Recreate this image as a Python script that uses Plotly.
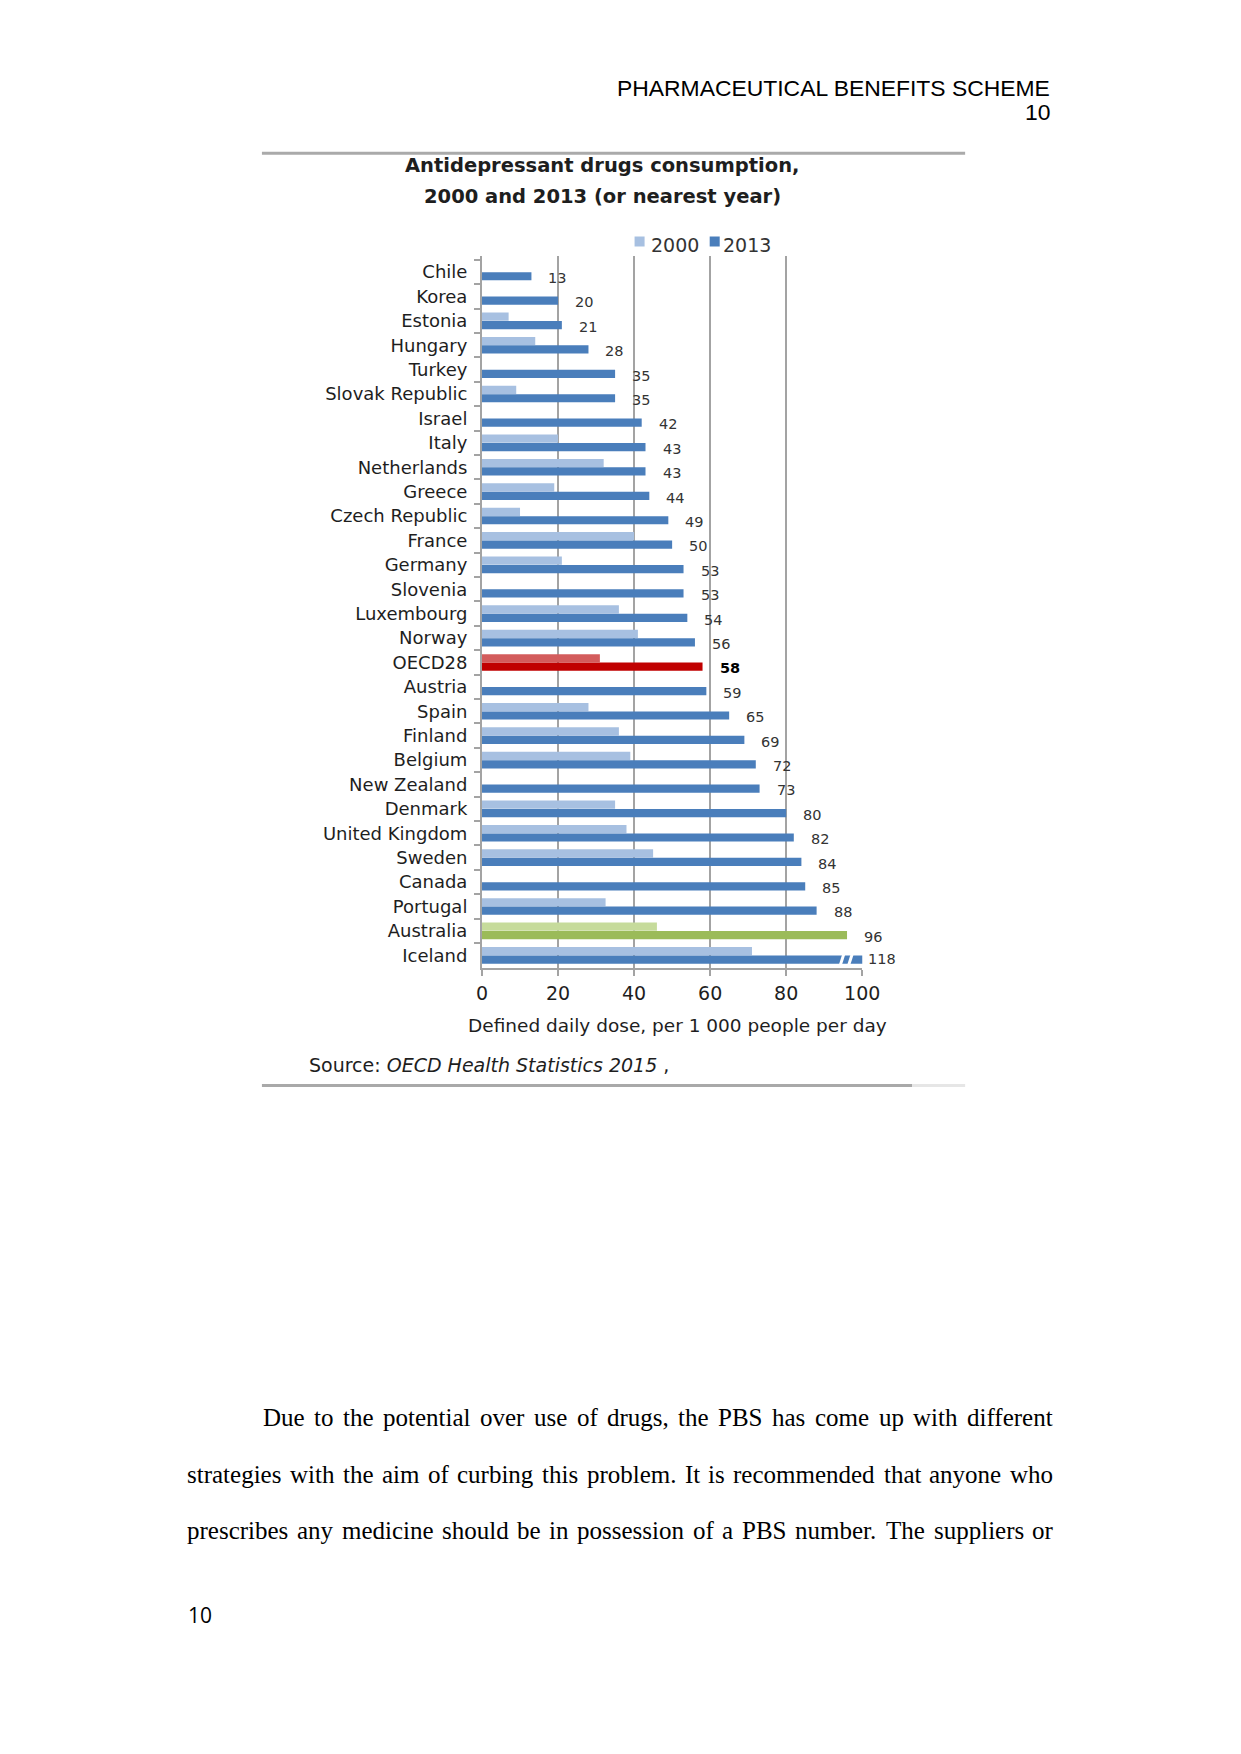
import plotly.graph_objects as go

W, H = 1241, 1754

# ---------------- data ----------------
countries = ["Chile", "Korea", "Estonia", "Hungary", "Turkey", "Slovak Republic", "Israel",
             "Italy", "Netherlands", "Greece", "Czech Republic", "France", "Germany", "Slovenia",
             "Luxembourg", "Norway", "OECD28", "Austria", "Spain", "Finland", "Belgium",
             "New Zealand", "Denmark", "United Kingdom", "Sweden", "Canada", "Portugal",
             "Australia", "Iceland"]
v2013 = [13, 20, 21, 28, 35, 35, 42, 43, 43, 44, 49, 50, 53, 53, 54, 56, 58, 59, 65, 69, 72,
         73, 80, 82, 84, 85, 88, 96, 118]
v2000 = [None, None, 7, 14, None, 9, None, 20, 32, 19, 10, 40, 21, None, 36, 41, 31, None, 28,
         36, 39, None, 35, 38, 45, None, 32.5, 46, 71]
x_ticks = [0, 20, 40, 60, 80, 100]
series_names = ["2000", "2013"]

title_lines = ["Antidepressant drugs consumption,", "2000 and 2013 (or nearest year)"]
x_title = "Defined daily dose, per 1 000 people per day"
source_html = "Source: <i>OECD Health Statistics 2015</i> ,"

header_title = "PHARMACEUTICAL BENEFITS SCHEME"
page_no = "10"
para_lines = [
    "Due to the potential over use of drugs, the PBS has come up with different",
    "strategies with the aim of curbing this problem. It is recommended that anyone who",
    "prescribes any medicine should be in possession of a PBS number. The suppliers or",
]

# ---------------- styling ----------------
BLUE_L, BLUE_D = "#A7C0E1", "#4A7EBB"
RED_L, RED_D = "#D35C5C", "#C00000"
GRN_L, GRN_D = "#C6DB9B", "#9BBB59"
GRID = "#A3A3A3"
TXT = "#1E1E1E"
CF = "DejaVu Sans"
XMAX = 100


def col(c, base, oecd, aus):
    if c == "OECD28":
        return oecd
    if c == "Australia":
        return aus
    return base


c2000 = [col(c, BLUE_L, RED_L, GRN_L) for c in countries]
c2013 = [col(c, BLUE_D, RED_D, GRN_D) for c in countries]

# the viewer lays the page out slightly narrower than the window; compensate horizontally
OFF_X, SCALE_X = 7.5, 0.979


def px(x):
    return ((x - OFF_X) / SCALE_X) / W


def py(y):
    return 1 - y / H


PLOT_L, PLOT_R = 482.7, 862.3
PLOT_T, PLOT_B = 256.0, 967.5
BARGAP, GROUPGAP = 0.307, 0.03

fig = go.Figure()
fig.add_trace(go.Bar(y=countries, x=v2000, name=series_names[0], orientation="h",
                     marker=dict(color=c2000, line=dict(width=0)), hoverinfo="x+y"))
fig.add_trace(go.Bar(y=countries, x=v2013, name=series_names[1], orientation="h",
                     marker=dict(color=c2013, line=dict(width=0)), hoverinfo="x+y"))

annotations = []
shapes = []

# data labels
for c, v in zip(countries, v2013):
    over = v > XMAX
    txt = "<b>%d</b>" % v if c == "OECD28" else "%d" % v
    annotations.append(dict(
        x=min(v, XMAX), y=c, xref="x", yref="y", text=txt, showarrow=False,
        xanchor="left", yanchor="middle", xshift=4 if over else 15, yshift=-4 if over else -6,
        font=dict(family=CF, size=14.5, color="#000000" if c == "OECD28" else "#333333")))
    if over:
        idx = countries.index(c)
        off = (1 - BARGAP) / 4
        for bx in (XMAX - 5.3, XMAX - 3.1):
            shapes.append(dict(type="line", xref="x", yref="y",
                               x0=bx - 0.45, x1=bx + 0.45,
                               y0=idx + off + 0.22, y1=idx + off - 0.22,
                               line=dict(color="white", width=3)))

# title
annotations.append(dict(x=px(602.6), y=py(165.6), xref="paper", yref="paper", showarrow=False,
                        text="<b>%s</b>" % title_lines[0], xanchor="center", yanchor="middle",
                        font=dict(family=CF, size=19.5, color=TXT)))
annotations.append(dict(x=px(602.6), y=py(196.0), xref="paper", yref="paper", showarrow=False,
                        text="<b>%s</b>" % title_lines[1], xanchor="center", yanchor="middle",
                        font=dict(family=CF, size=19.5, color=TXT)))

# legend
for name, sq_x, tx, colr in ((series_names[0], 635, 649.5, BLUE_L),
                             (series_names[1], 710, 721.5, BLUE_D)):
    shapes.append(dict(type="rect", xref="paper", yref="paper",
                       x0=px(sq_x), x1=px(sq_x + 10), y0=py(246.5), y1=py(236.5),
                       fillcolor=colr, line=dict(width=0)))
    annotations.append(dict(x=px(tx), y=py(244.7), xref="paper", yref="paper", showarrow=False,
                            text=name, xanchor="left", yanchor="middle",
                            font=dict(family=CF, size=19, color="#333333")))

# axis title & source
annotations.append(dict(x=px(678), y=py(1025), xref="paper", yref="paper", showarrow=False,
                        text=x_title, xanchor="center", yanchor="middle",
                        font=dict(family=CF, size=18.5, color=TXT)))
annotations.append(dict(x=px(308), y=py(1065), xref="paper", yref="paper", showarrow=False,
                        text=source_html, xanchor="left", yanchor="middle",
                        font=dict(family=CF, size=19, color=TXT)))

# frame lines of the pasted chart image
shapes.append(dict(type="line", xref="paper", yref="paper", x0=px(263), x1=px(965),
                   y0=py(153.3), y1=py(153.3), line=dict(color="#AAAAAA", width=3)))
shapes.append(dict(type="line", xref="paper", yref="paper", x0=px(263), x1=px(912),
                   y0=py(1085.5), y1=py(1085.5), line=dict(color="#A9A9A9", width=3)))
shapes.append(dict(type="line", xref="paper", yref="paper", x0=px(912), x1=px(965),
                   y0=py(1085.5), y1=py(1085.5), line=dict(color="#E6E6E6", width=3)))

# page header / footer
annotations.append(dict(x=px(1052), y=py(87.7), xref="paper", yref="paper", showarrow=False,
                        text=header_title, xanchor="right", yanchor="middle",
                        font=dict(family="Liberation Sans", size=22.9, color="#000000")))
annotations.append(dict(x=px(1052), y=py(111.7), xref="paper", yref="paper", showarrow=False,
                        text=page_no, xanchor="right", yanchor="middle",
                        font=dict(family="Liberation Sans", size=22.9, color="#000000")))
annotations.append(dict(x=px(187), y=py(1614.5), xref="paper", yref="paper", showarrow=False,
                        text=page_no, xanchor="left", yanchor="middle",
                        font=dict(family="Open Sans", size=21, color="#000000")))

# justified body paragraph (Times metrics)
TIMES = {' ': 250, ',': 250, '.': 250, 'a': 444, 'b': 500, 'c': 444, 'd': 500, 'e': 444,
         'f': 333, 'g': 500, 'h': 500, 'i': 278, 'j': 278, 'k': 500, 'l': 278, 'm': 778,
         'n': 500, 'o': 500, 'p': 500, 'q': 500, 'r': 333, 's': 389, 't': 278, 'u': 500,
         'v': 500, 'w': 722, 'x': 500, 'y': 500, 'z': 444, 'D': 722, 'P': 556, 'B': 667,
         'S': 556, 'I': 333, 'T': 611}
PFS = 25.0


def tw(s):
    return sum(TIMES.get(ch, 500) for ch in s) * PFS / 1000.0


line_specs = [(262.7, 1052.0, 1425.7), (187.5, 1052.0, 1482.5), (187.5, 1052.0, 1539.3)]
for text, (x_start, x_end, base) in zip(para_lines, line_specs):
    words = text.split(" ")
    total = sum(tw(w) for w in words)
    gap = (x_end - x_start - total) / (len(words) - 1)
    xx = x_start
    for w in words:
        annotations.append(dict(x=px(xx - 1), y=py(base - 8.4), xref="paper", yref="paper",
                                showarrow=False, text=w, xanchor="left", yanchor="middle",
                                font=dict(family="Liberation Serif", size=PFS, color="#000000")))
        xx += tw(w) + gap

fig.update_layout(
    width=W, height=H, autosize=False, margin=dict(l=0, r=0, t=0, b=0, pad=0),
    paper_bgcolor="white", plot_bgcolor="white",
    barmode="group", bargap=BARGAP, bargroupgap=GROUPGAP, showlegend=False,
    annotations=annotations, shapes=shapes,
    xaxis=dict(domain=[px(PLOT_L), px(PLOT_R)], range=[0, XMAX], tickvals=x_ticks,
               showgrid=True, gridcolor=GRID, gridwidth=2, zeroline=False,
               showline=True, linecolor=GRID, linewidth=2,
               ticks="outside", ticklen=6, tickwidth=2, tickcolor=GRID, ticklabelstandoff=2,
               tickfont=dict(family=CF, size=19, color=TXT), fixedrange=True),
    yaxis=dict(domain=[py(PLOT_B), py(PLOT_T)], type="category", categoryorder="array",
               categoryarray=countries, autorange="reversed", showgrid=False,
               showline=True, linecolor=GRID, linewidth=2,
               ticks="outside", tickson="boundaries", ticklen=6, tickwidth=2, tickcolor=GRID,
               ticklabelstandoff=9, tickfont=dict(family=CF, size=18, color=TXT),
               fixedrange=True),
)

post = (
    "document.documentElement.style.margin='0';"
    "document.documentElement.style.overflow='hidden';"
    "document.body.style.margin='0';document.body.style.padding='0';"
    "document.body.style.overflow='hidden';"
    "var gd=document.getElementById('{plot_id}');"
    "gd.style.width='1241px';gd.style.height='1754px';"
    "Plotly.relayout(gd,{width:1241,height:1754,autosize:false});"
)

fig.write_html("out.html", config={"responsive": False, "displayModeBar": False},
               post_script=post)
